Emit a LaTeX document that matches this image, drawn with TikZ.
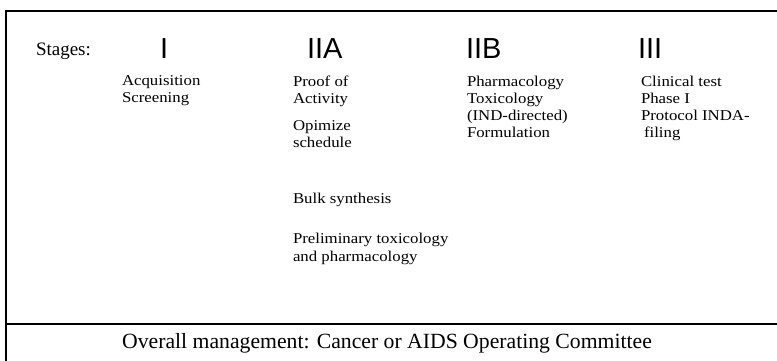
\documentclass[tikz,border=0pt]{standalone}
\usepackage{fontspec}
\setmainfont{Liberation Serif}
\newfontfamily\numfont{Liberation Sans}
\newfontfamily\taskfont[FakeStretch=1.12]{Liberation Serif}
\begin{document}
\begin{tikzpicture}[x=1pt,y=-1pt,
		every node/.style = {inner sep=0pt, outer sep=0pt},
		frame/.style = {line width=1.3pt},
		stagenum/.style = {anchor=base west,
			font=\numfont\fontsize{29}{29}\selectfont},
		task/.style = {anchor=north west, align=left,
			font=\taskfont\fontsize{15}{17}\selectfont}]
		\useasboundingbox (0,0) rectangle (777,361);
		% frame
		\coordinate (topleft) at (6,11);
		\coordinate (topright) at (777,11);
		\coordinate (midleft) at (6,324);
		\coordinate (midright) at (777,324);
		\coordinate (botleft) at (6,361);
		\draw[frame] (topright) -- (topleft) -- (botleft);
		\draw[frame] (midleft) -- (midright);
		% stages
		\node[anchor=base west, font=\fontsize{19}{19}\selectfont] (stages) at (36,56) {Stages:};
		\node[stagenum] (s1) at (160,59) {I};
		\node[stagenum] (s2a) at (307,59) {IIA};
		\node[stagenum] (s2b) at (466,59) {IIB};
		\node[stagenum] (s3) at (638,59) {III};
		% tasks
		\node[task] (acq) at (122,76) {Acquisition\\Screening};
		\node[task] (proof) at (293,76) {Proof of\\Activity};
		\node[task] (opt) at (293,121) {Opimize\\schedule};
		\node[task] (bulk) at (293,193) {Bulk synthesis};
		\node[task, font=\taskfont\fontsize{15}{18}\selectfont] (prelim) at (293,233) {Preliminary toxicology\\and pharmacology};
		\node[task] (pharm) at (467,76) {Pharmacology\\Toxicology\\(IND-directed)\\Formulation};
		\node[task] (clin) at (641,76) {Clinical test\\Phase I\\Protocol INDA-\\\hspace{3pt}filing};
		% management
		\node[font=\fontsize{21.7}{21.7}\selectfont] (mgmt) at (387,343) {Overall management: Cancer or AIDS Operating Committee};
	\end{tikzpicture}
\end{document}
